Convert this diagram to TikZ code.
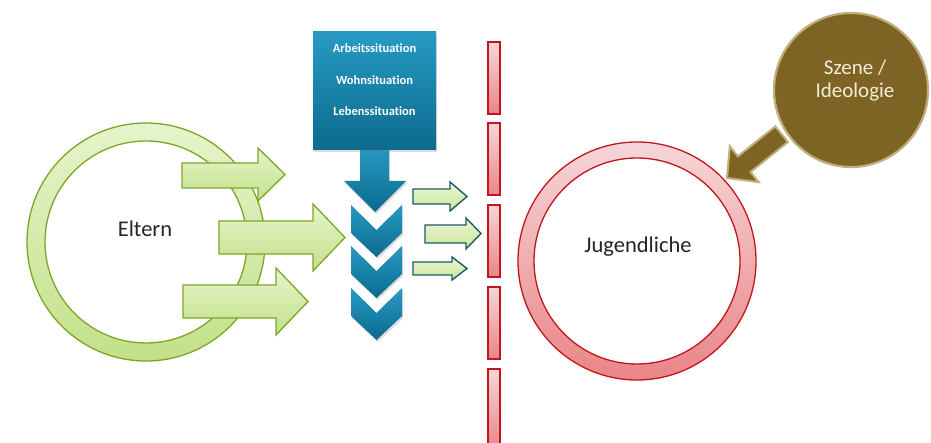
\documentclass[tikz,border=0pt]{standalone}
\usepackage{fontspec}
\setmainfont{Carlito}[Ligatures=NoCommon]
\usetikzlibrary{shadows}
\definecolor{gTop}{HTML}{E6F4CC}
\definecolor{gBot}{HTML}{C2E188}
\definecolor{gEdge}{HTML}{7DA628}
\definecolor{bTop}{HTML}{279AC4}
\definecolor{bBot}{HTML}{0C6A8E}
\definecolor{rTop}{HTML}{F6D6D8}
\definecolor{rBot}{HTML}{E98587}
\definecolor{rEdge}{HTML}{C2161E}
\definecolor{sEdge}{HTML}{1E5A68}
\definecolor{brn}{HTML}{7E6424}
\definecolor{brnEdge}{HTML}{C2AE7C}
\definecolor{txt}{HTML}{2A2223}
\definecolor{szTxt}{HTML}{F4ECDA}
\tikzset{
  shad/.style={drop shadow={opacity=0.28, shadow xshift=1.2pt, shadow yshift=-2pt}},
  ring/.style={even odd rule, line width=1.3pt},
  greenring/.style={ring, draw=gEdge, top color=gTop, bottom color=gBot},
  redring/.style={ring, draw=rEdge, top color=rTop, bottom color=rBot},
  greenarrow/.style={draw=gEdge, line width=1.3pt, top color=gTop, bottom color=gBot, line join=miter},
  smallarrow/.style={draw=sEdge, line width=1.4pt, top color=gTop!80!white, bottom color=gBot!85!white},
  bluepart/.style={top color=bTop, bottom color=bBot, shad},
  redbar/.style={draw=rEdge, line width=1.1pt, top color=rTop, bottom color=rBot},
  bigtext/.style={font=\fontsize{22.5}{27}\selectfont, text=txt, inner sep=0pt, anchor=base},
  boxtext/.style={font=\fontsize{12.5}{15}\selectfont\bfseries, text=white, inner sep=0pt, anchor=base},
  sztext/.style={font=\fontsize{21}{25}\selectfont, text=szTxt, inner sep=0pt, anchor=base}
}
\begin{document}
\begin{tikzpicture}[x=1pt,y=-1pt]
\useasboundingbox (0,0) rectangle (931,443);
\fill[white] (0,0) rectangle (931,443);

% Eltern ring
\path[greenring] (146,242) circle[radius=119] (146,242) circle[radius=101];
\node[bigtext] (eltern) at (145,237) {Eltern};

% green block arrows
\path[greenarrow] (182,163) -- (258,163) -- (258,148) -- (285,174.5) -- (258,201) -- (258,188) -- (182,188) -- cycle;
\path[greenarrow] (219,221) -- (313,221) -- (313,204) -- (345,237.5) -- (313,271) -- (313,254) -- (219,254) -- cycle;
\path[greenarrow] (183,285) -- (276,285) -- (276,268) -- (308,301.5) -- (276,335) -- (276,318) -- (183,318) -- cycle;

% blue down arrow and box
\path[bluepart] (360,145) -- (389,145) -- (389,181) -- (406,181) -- (375,212) -- (344,181) -- (360,181) -- cycle;
\node[bluepart, minimum width=123pt, minimum height=118pt, inner sep=0pt] (box) at (374.5,91) {};
\node[boxtext] (t1) at (374.5,53) {Arbeitssituation};
\node[boxtext] (t2) at (374.5,85) {Wohnsituation};
\node[boxtext] (t3) at (374.5,116) {Lebenssituation};

% chevrons
\foreach \t in {205,246,288}{
  \path[bluepart] (351,\t) -- (376.5,{\t+25}) -- (402,\t) -- (402,{\t+28}) -- (376.5,{\t+52}) -- (351,{\t+28}) -- cycle;
}

% small arrows
\path[smallarrow] (413,189) -- (450,189) -- (450,182) -- (467,196.5) -- (450,211) -- (450,204) -- (413,204) -- cycle;
\path[smallarrow] (425,225) -- (466,225) -- (466,218) -- (481,233.5) -- (466,249) -- (466,243) -- (425,243) -- cycle;
\path[smallarrow] (413,262) -- (452,262) -- (452,257) -- (467,268.5) -- (452,280) -- (452,275) -- (413,275) -- cycle;

% red dashed barrier
\foreach \t in {42,123,205,287}{
  \path[redbar] (488,\t) rectangle (500,{\t+72});
}
\path[redbar] (488,369) rectangle (500,450);

% Jugendliche ring
\path[redring] (637,261) circle[radius=119] (637,261) circle[radius=103];
\node[bigtext] (jugend) at (638,253) {Jugendliche};

% Szene / Ideologie
\node[circle, fill=brn, draw=brnEdge, line width=2.2pt, minimum size=154pt, inner sep=0pt] (szc) at (851,90) {};
\node[sztext] (sz1) at (855,75) {Szene /};
\node[sztext] (sz2) at (855,98) {Ideologie};

% brown arrow
\path[fill=brn, draw=brnEdge, line width=2pt, line join=miter]
  (775.3,126.4) -- (787.9,142.0) -- (750.5,172.0) -- (758.6,182.1) -- (727,178) -- (729.8,146.3) -- (737.9,156.4) -- cycle;
\end{tikzpicture}
\end{document}
